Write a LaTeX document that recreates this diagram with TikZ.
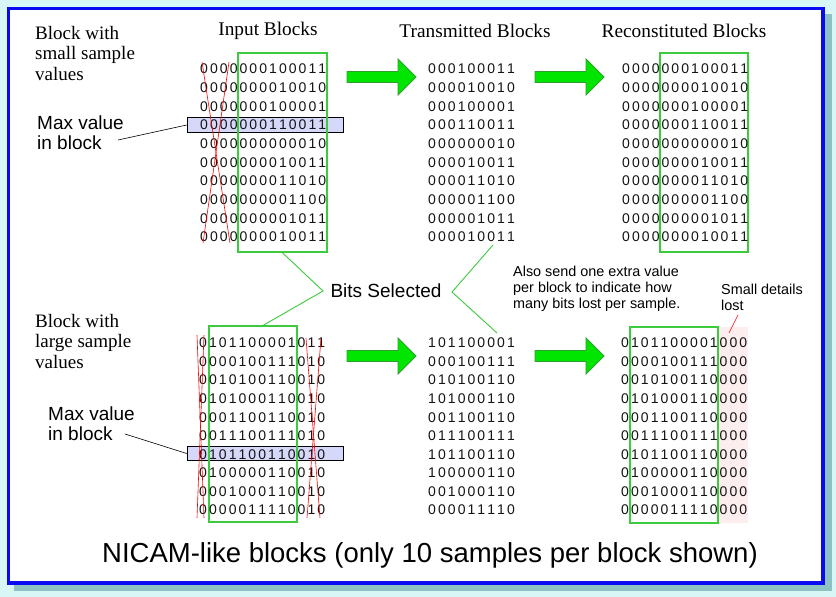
\documentclass[tikz,border=0pt]{standalone}
\usepackage{fontspec}
\setmainfont{Liberation Serif}
\setsansfont{Liberation Sans}
\newcommand\bitrow[1]{\bitrowi#1\relax}
\def\bitrowi#1{\ifx\relax#1\else\makebox[9.85pt]{#1}\expandafter\bitrowi\fi}
\newcommand\bitrowx[1]{\expandafter\bitrow\expandafter{#1}}
\definecolor{bgcyan}{HTML}{D8F6F6}
\definecolor{shadowc}{HTML}{8EC2C2}
\definecolor{frameblue}{HTML}{0A0AF0}
\definecolor{selgreen}{HTML}{3CCB3C}
\definecolor{arrowfill}{HTML}{00E600}
\definecolor{arrowline}{HTML}{2E9E2E}
\definecolor{maxfill}{HTML}{D5D8F8}
\definecolor{lostpink}{HTML}{FCEEEE}
\newcommand\garrow[2]{%
  \filldraw[fill=arrowfill, draw=arrowline, line width=0.8pt]
    (#1,#2-5.5) -- (#1+51,#2-5.5) -- (#1+51,#2-18) -- (#1+69,#2)
    -- (#1+51,#2+18) -- (#1+51,#2+5.5) -- (#1,#2+5.5) -- cycle;}
\begin{document}
\begin{tikzpicture}[x=1pt,y=-1pt,
  bits/.style={font=\sffamily\fontsize{14}{14}\selectfont, inner sep=0pt, anchor=west, text=black!92},
  header/.style={font=\rmfamily\fontsize{19.3}{21}\selectfont, inner sep=0pt},
  sidelbl/.style={font=\rmfamily\fontsize{19}{20.5}\selectfont, inner sep=0pt, anchor=north west, align=left},
  maxlbl/.style={font=\sffamily\fontsize{19}{20}\selectfont, inner sep=0pt, anchor=north west, align=left},
  note/.style={font=\sffamily\fontsize{14.4}{16}\selectfont, inner sep=0pt, anchor=north west, align=left},
  selbox/.style={draw=selgreen, line width=1.6pt, inner sep=0pt, minimum height=196pt, minimum width=88pt},
  maxbox/.style={draw=black, fill=maxfill, line width=0.6pt, inner sep=0pt, minimum width=156pt, minimum height=14.5pt},
  redline/.style={draw=red, line width=0.6pt},
  selline/.style={draw=selgreen, line width=0.9pt},
  pointer/.style={draw=black, line width=0.6pt}]
\useasboundingbox (0,0) rectangle (836,597);
% frame
\fill[bgcyan] (0,0) rectangle (836,597);
\fill[shadowc] (14,14) rectangle (832,591);
\filldraw[fill=white, draw=frameblue, line width=3.5pt] (8.5,8.5) rectangle (823,583);

% headers
\node[header] (hIn) at (268,31) {Input Blocks};
\node[header] (hTx) at (475,31) {Transmitted Blocks};
\node[header] (hRc) at (684,31) {Reconstituted Blocks};

% side labels
\node[sidelbl] (sideA) at (35,26) {Block with\\small sample\\values};
\node[sidelbl] (sideB) at (35,314) {Block with\\large sample\\values};
\node[maxlbl] (maxlA) at (37,116) {Max value\\in block};
\node[maxlbl] (maxlB) at (48,407) {Max value\\in block};

% highlight boxes
\node[maxbox] (maxA) at (265,125) {};
\node[maxbox] (maxB) at (265,453.5) {};
\coordinate (pa) at (118,140);
\coordinate (pb) at (125,434);
\draw[pointer] (pa) -- (maxA.west);
\draw[pointer] (pb) -- (maxB.west);

% pink lost area
\fill[lostpink] (718,327) rectangle (748,523);

% selection boxes
\node[selbox, minimum height=199pt, minimum width=89pt] (selA) at (282.5,152.5) {};
\node[selbox, minimum height=199pt] (selC) at (704,152.5) {};
\node[selbox] (selB) at (253,424) {};
\node[selbox] (selD) at (674,425) {};

% top input block
\foreach \r [count=\i] in {0000000100011,0000000010010,0000000100001,0000000110011,0000000000010,0000000010011,0000000011010,0000000001100,0000000001011,0000000010011}
  \node[bits] (inA\i) at (199,{69+(\i-1)*18.65}) {\bitrowx{\r}};
% top transmitted
\foreach \r [count=\i] in {000100011,000010010,000100001,000110011,000000010,000010011,000011010,000001100,000001011,000010011}
  \node[bits] (txA\i) at (427,{69+(\i-1)*18.65}) {\bitrowx{\r}};
% top reconstituted
\foreach \r [count=\i] in {0000000100011,0000000010010,0000000100001,0000000110011,0000000000010,0000000010011,0000000011010,0000000001100,0000000001011,0000000010011}
  \node[bits] (rcA\i) at (621,{69+(\i-1)*18.65}) {\bitrowx{\r}};

% bottom input block
\foreach \r [count=\i] in {0101100001011,0000100111010,0010100110010,0101000110010,0001100110010,0011100111010,0101100110010,0100000110010,0001000110010,0000011110010}
  \node[bits] (inB\i) at (198,{343+(\i-1)*18.55}) {\bitrowx{\r}};
% bottom transmitted
\foreach \r [count=\i] in {101100001,000100111,010100110,101000110,001100110,011100111,101100110,100000110,001000110,000011110}
  \node[bits] (txB\i) at (427,{343+(\i-1)*18.55}) {\bitrowx{\r}};
% bottom reconstituted
\foreach \r [count=\i] in {0101100001000,0000100111000,0010100110000,0101000110000,0001100110000,0011100111000,0101100110000,0100000110000,0001000110000,0000011110000}
  \node[bits] (rcB\i) at (620,{343+(\i-1)*18.55}) {\bitrowx{\r}};

% red cross-outs
\draw[redline] (202,62) -- (230,243);
\draw[redline] (229,62) -- (203,243);
\draw[redline] (197,335) -- (204,518);
\draw[redline] (204,335) -- (197,518);
\draw[redline] (306,338) -- (320,518);
\draw[redline] (321,338) -- (307,518);

% arrows
\garrow{347}{77}
\garrow{535}{77}
\garrow{347}{356}
\garrow{535}{356}

% bits selected
\node[font=\sffamily\fontsize{19}{20}\selectfont, inner sep=0pt] (bitsel) at (386,291) {Bits Selected};
\coordinate (bsL) at (323,291);
\coordinate (bsR) at (452,292);
\coordinate (txAend) at (493,245);
\coordinate (txBend) at (497,333);
\coordinate (selBtop) at (262,326);
\draw[selline] (selA.south) -- (bsL) -- (selBtop);
\draw[selline] (txAend) -- (bsR) -- (txBend);

% notes
\node[note] (extra) at (513,266) {Also send one extra value\\per block to indicate how\\many bits lost per sample.};
\node[note] (lost) at (721,284) {Small details\\lost};
\coordinate (lostA) at (729,333);
\coordinate (lostB) at (738,315);
\draw[redline] (lostA) -- (lostB);

% caption
\node[font=\sffamily\fontsize{27.5}{30}\selectfont, inner sep=0pt] (caption) at (430,555) {NICAM-like blocks (only 10 samples per block shown)};
\end{tikzpicture}
\end{document}
